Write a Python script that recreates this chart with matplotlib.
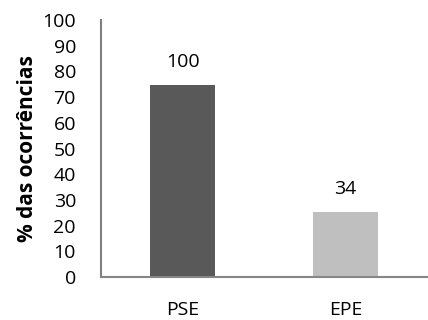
import matplotlib
matplotlib.use("Agg")
import matplotlib.pyplot as plt

categories = ["PSE", "EPE"]
counts = [100, 34]
bar_colors = ["#595959", "#BFBFBF"]

total = sum(counts)
percentages = [c / total * 100 for c in counts]

plt.rcParams["font.family"] = ["Open Sans", "DejaVu Sans"]

fig = plt.figure(figsize=(4.28, 3.2), dpi=100)
ax = fig.add_axes([101 / 428, 43 / 320, 326 / 428, 257 / 320])

x = range(len(categories))
bars = ax.bar(x, percentages, width=0.4, color=bar_colors)

for bar, n in zip(bars, counts):
    ax.annotate(str(n), (bar.get_x() + bar.get_width() / 2, bar.get_height()),
                xytext=(0, 10), textcoords="offset points",
                ha="center", va="bottom", fontsize=14)

ax.set_xlim(-0.5, 1.5)
ax.set_ylim(0, 100)
ax.set_yticks(range(0, 101, 10))
ax.set_xticks(list(x))
ax.set_xticklabels(categories)
ax.tick_params(axis="y", length=0, pad=18, labelsize=14)
ax.tick_params(axis="x", length=0, pad=17, labelsize=14)
ax.set_ylabel("% das ocorrências", fontsize=15, fontweight="bold", labelpad=3)

for side in ("top", "right"):
    ax.spines[side].set_visible(False)
ax.spines["left"].set_color("#7f7f7f")
ax.spines["left"].set_linewidth(1.5)
ax.spines["bottom"].set_color("#868686")
ax.spines["bottom"].set_linewidth(1.5)

fig.savefig("out.png", dpi=100)
